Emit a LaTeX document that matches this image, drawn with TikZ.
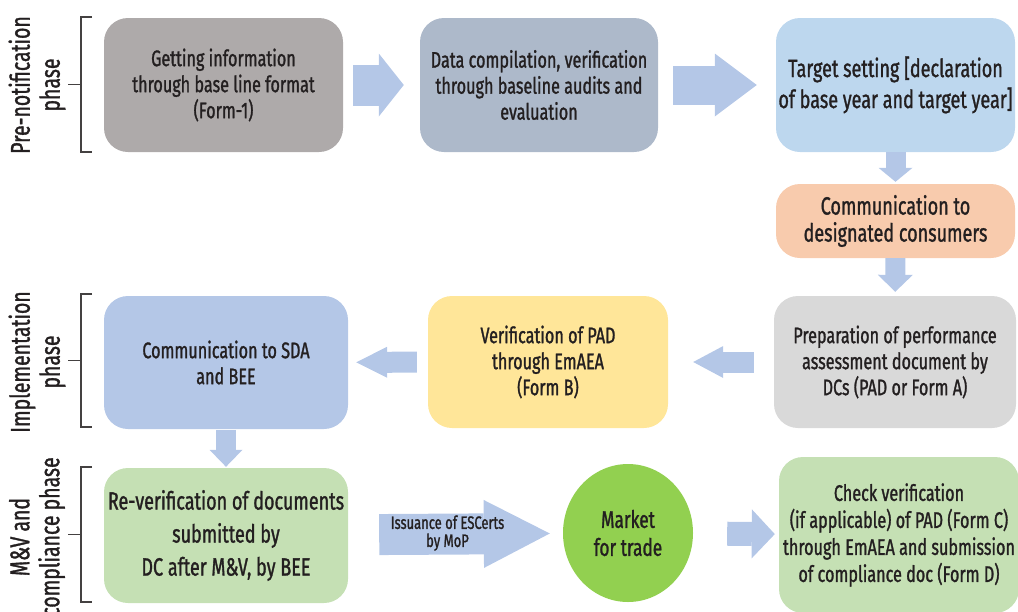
\documentclass[tikz,border=0pt]{standalone}
\usepackage{fontspec}
\setmainfont{Fira Sans}[FakeStretch=0.72, FakeBold=1.2]
\usetikzlibrary{arrows.meta,shapes.geometric}

\definecolor{txtdark}{HTML}{231F20}
\definecolor{arrblue}{HTML}{B4C7E7}
\definecolor{boxgray}{HTML}{AEAAAA}
\definecolor{boxslate}{HTML}{ADB9CA}
\definecolor{boxsky}{HTML}{BDD7EE}
\definecolor{boxpeach}{HTML}{F8CBAD}
\definecolor{boxlight}{HTML}{D9D9D9}
\definecolor{boxyellow}{HTML}{FFE699}
\definecolor{boxblue}{HTML}{B4C7E7}
\definecolor{boxgreen}{HTML}{C5E0B4}
\definecolor{mktgreen}{HTML}{92D050}

\begin{document}
\begin{tikzpicture}[x=1pt,y=-1pt,
    procbox/.style={rounded corners=24pt, align=center, text=txtdark, inner sep=0pt,
        font=\fontsize{22.5}{26}\selectfont},
    bigtext/.style={font=\fontsize{25}{#1}\selectfont},
    phase/.style={rotate=90, align=center, text=txtdark, font=\fontsize{27}{30}\selectfont},
    bracket/.style={draw=txtdark!85, line width=1.1pt},
    blockarr/.style n args={3}{draw=arrblue, line width=#1,
        -{Triangle[width=#2, length=#3, line width=0pt]}}]
    \useasboundingbox (0,0) rectangle (1018,611);

    % phase brackets and labels
    \foreach \t/\b in {17/152, 294/427, 467/602}
        \draw[bracket] (92,\t) -- (81,\t) -- (81,\b) -- (92,\b) (68,{(\t+\b)/2}) -- (81,{(\t+\b)/2});
    \node[phase] (phpre) at (37,85) {Pre-notification\\phase};
    \node[phase] (phimp) at (37,362) {Implementation\\phase};
    \node[phase] (phmv) at (37,537) {M\&V and\\compliance phase};

    % first row
    \node[procbox, fill=boxgray, minimum width=239pt, minimum height=134pt] (getinfo) at (223.5,85)
        {Getting information\\through base line format\\(Form-1)};
    \node[procbox, fill=boxslate, minimum width=238pt, minimum height=134pt] (datacomp) at (539,85)
        {Data compilation, verification\\through baseline audits and\\evaluation};
    \node[procbox, bigtext=31, fill=boxsky, minimum width=239pt, minimum height=134pt] (target) at (895.5,85)
        {Target setting [declaration\\of base year and target year]};
    \node[procbox, bigtext=27, fill=boxpeach, minimum width=239pt, minimum height=74pt] (commdc) at (895.5,221)
        {Communication to\\designated consumers};

    % second row
    \node[procbox, fill=boxlight, minimum width=242pt, minimum height=132pt] (prepad) at (895,362)
        {Preparation of performance\\assessment document by\\DCs (PAD or Form A)};
    \node[procbox, fill=boxyellow, minimum width=240pt, minimum height=132pt] (verpad) at (548,362)
        {Verification of PAD\\through EmAEA\\(Form B)};
    \node[procbox, fill=boxblue, minimum width=244pt, minimum height=133pt] (commsda) at (226,362.5)
        {Communication to SDA\\and BEE};

    % third row
    \node[procbox, bigtext=33, fill=boxgreen, minimum width=244pt, minimum height=135pt] (reverify) at (226,535.5)
        {Re-verification of documents\\submitted by\\DC after M\&V, by BEE};
    \node[ellipse, fill=mktgreen, inner sep=0pt, minimum width=130pt, minimum height=138pt,
        align=center, text=txtdark, font=\fontsize{24}{28}\selectfont] (market) at (628,533)
        {Market\\for trade};
    \node[procbox, fill=boxgreen, minimum width=240pt, minimum height=156pt,
        font=\fontsize{22.5}{27}\selectfont] (checkver) at (899,535)
        {Check verification\\(if applicable) of PAD (Form C)\\through EmAEA and submission\\of compliance doc (Form D)};

    % block arrows
    \draw[blockarr={41pt}{63pt}{25pt}, shorten <=10pt, shorten >=16pt] (getinfo) -- (datacomp);
    \draw[blockarr={39pt}{63pt}{42pt}, shorten <=15pt, shorten >=19pt] (datacomp) -- (target);
    \draw[blockarr={20pt}{34pt}{14pt}, shorten >=2pt] (target) -- (commdc);
    \draw[blockarr={20pt}{35pt}{17pt}, shorten >=4pt] (commdc) -- (prepad);
    \draw[blockarr={21pt}{32pt}{30pt}, shorten <=20pt, shorten >=25pt] (prepad) -- (verpad);
    \draw[blockarr={21pt}{31pt}{31pt}, shorten <=11pt, shorten >=8pt] (verpad) -- (commsda);
    \draw[blockarr={20pt}{33pt}{17pt}, shorten <=1pt, shorten >=1pt] (commsda) -- (reverify);
    \draw[blockarr={41pt}{68pt}{66pt}, shorten <=31pt, shorten >=13pt] (reverify) -- (market)
        node[midway, xshift=-8pt, yshift=1pt, align=center, text=txtdark, font=\fontsize{18}{18}\selectfont] (escerts)
        {Issuance of ESCerts\\by MoP};
    \draw[blockarr={24pt}{49pt}{23pt}, shorten <=34pt, shorten >=4pt] (market) -- (checkver);
\end{tikzpicture}
\end{document}
